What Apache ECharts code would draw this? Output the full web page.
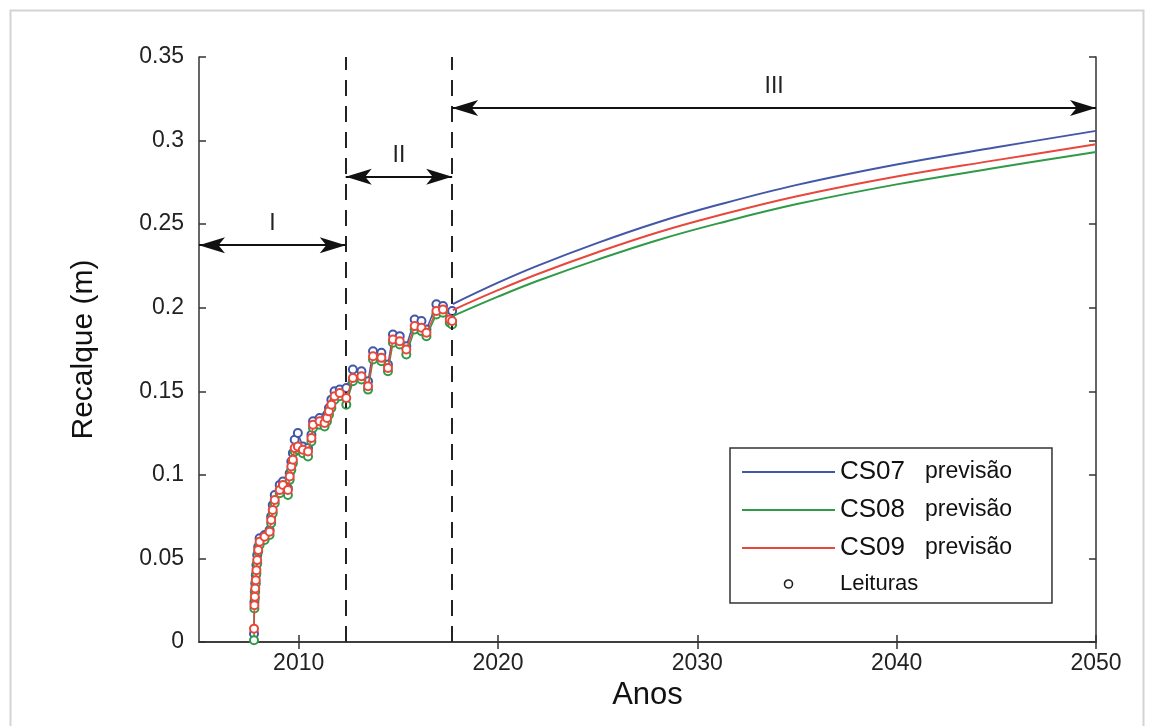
<!DOCTYPE html>
<html><head><meta charset="utf-8">
<script src="https://cdn.jsdelivr.net/npm/echarts@6/dist/echarts.min.js"></script>
<style>html,body{margin:0;padding:0;background:#fff}#c{width:1149px;height:726px}</style>
</head><body><div id="c"></div>
<script>
// ---- data ----
const readYears = [2007.76,2007.78,2007.80,2007.82,2007.85,2007.88,2007.92,2007.97,2008.04,2008.29,
  2008.54,2008.62,2008.70,2008.80,2009.05,2009.21,2009.46,2009.55,2009.63,2009.71,
  2009.80,2009.96,2010.21,2010.47,2010.64,2010.72,2011.05,2011.30,2011.42,2011.52,
  2011.64,2011.80,2012.06,2012.39,2012.72,2013.15,2013.48,2013.73,2014.15,2014.48,
  2014.73,2015.07,2015.40,2015.82,2016.16,2016.41,2016.91,2017.24,2017.58,2017.70];
const cs07Read = [0.005,0.024,0.030,0.035,0.040,0.046,0.052,0.057,0.062,0.064,
  0.067,0.075,0.082,0.088,0.094,0.096,0.092,0.101,0.108,0.113,
  0.121,0.125,0.117,0.116,0.124,0.132,0.134,0.133,0.136,0.140,
  0.145,0.150,0.151,0.152,0.163,0.162,0.156,0.174,0.173,0.166,
  0.184,0.183,0.177,0.193,0.192,0.187,0.202,0.201,0.196,0.198];
const cs08Read = [0.001,0.020,0.026,0.030,0.035,0.041,0.047,0.054,0.058,0.061,
  0.064,0.071,0.077,0.083,0.089,0.092,0.088,0.097,0.103,0.107,
  0.114,0.115,0.113,0.111,0.120,0.128,0.130,0.129,0.132,0.136,
  0.140,0.145,0.147,0.142,0.156,0.157,0.151,0.169,0.168,0.162,
  0.179,0.178,0.172,0.187,0.186,0.183,0.196,0.197,0.191,0.190];
const cs09Read = [0.008,0.022,0.027,0.032,0.037,0.043,0.049,0.055,0.060,0.063,
  0.066,0.073,0.079,0.085,0.091,0.094,0.091,0.099,0.105,0.109,
  0.116,0.117,0.115,0.114,0.122,0.130,0.132,0.131,0.134,0.138,
  0.142,0.147,0.149,0.146,0.158,0.159,0.153,0.171,0.170,0.164,
  0.181,0.180,0.175,0.189,0.188,0.185,0.198,0.199,0.193,0.192];
const predYears = [2017.73,2020,2022,2025,2028,2031,2035,2040,2045,2050];
const cs07Pred = [0.2022,0.2150,0.2252,0.2388,0.2510,0.2614,0.2735,0.2857,0.2960,0.3058];
const cs08Pred = [0.1950,0.2066,0.2161,0.2288,0.2404,0.2503,0.2620,0.2738,0.2837,0.2932];
const cs09Pred = [0.1986,0.2105,0.2202,0.2332,0.2450,0.2550,0.2667,0.2785,0.2883,0.2978];
const seriesNames = ['CS07','CS08','CS09'];
const readingsName = 'Leituras';
const predWord = 'previsão';
const xTicks = [2010,2020,2030,2040,2050];
const yTicks = [0,0.05,0.1,0.15,0.2,0.25,0.3,0.35];
const phaseBounds = [2012.36, 2017.70];
const phaseLabels = ['I','II','III'];
const phaseStart = [2005, 2012.36, 2017.70];
const phaseEnd = [2012.36, 2017.70, 2050];
const phaseLevel = [0.2374, 0.2783, 0.3195];

// ---- style ----
const colors = ['#4357a8','#2f9a48','#e8473b'];
const FONT = 'Liberation Sans, Arial, sans-serif';
const X_MIN = 2005, X_MAX = 2050, Y_MIN = 0, Y_MAX = 0.35;
const ARROW_SIZE = [12, 26];

const zip = (xs, ys) => xs.map((x, i) => [x, ys[i]]);
const reads = [cs07Read, cs08Read, cs09Read];
const preds = [cs07Pred, cs08Pred, cs09Pred];

const series = [];
reads.forEach((r, i) => {
  series.push({
    name: readingsName, type: 'line', data: zip(readYears, r),
    symbol: 'emptyCircle', symbolSize: 8, showSymbol: true,
    lineStyle: {color: colors[i], width: 1.5},
    itemStyle: {color: colors[i], borderColor: colors[i], borderWidth: 1.6},
    z: 3 + i, silent: true
  });
});
preds.forEach((p, i) => {
  series.push({
    name: seriesNames[i], type: 'line', data: zip(predYears, p),
    symbol: 'none', smooth: 0.4, color: colors[i],
    lineStyle: {color: colors[i], width: 2}, z: 6, silent: true
  });
});
// dashed phase boundaries
series.push({
  type: 'line', data: [], silent: true,
  markLine: {
    silent: true, symbol: ['none','none'], animation: false,
    lineStyle: {color: '#222', type: [16, 10], width: 2},
    label: {show: false},
    data: phaseBounds.map(v => ({xAxis: v}))
  }
});
// phase arrows
series.push({
  type: 'line', data: [], silent: true,
  markLine: {
    silent: true, symbol: ['arrow','arrow'], animation: false,
    lineStyle: {color: '#111', type: 'solid', width: 2},
    label: {show: true, position: 'middle', distance: 10, color: '#222',
      fontFamily: FONT, fontSize: 23, formatter: p => p.data.label},
    data: phaseLabels.map((lab, i) => [
      {coord: [phaseStart[i], phaseLevel[i]], label: lab, symbol: 'arrow', symbolSize: ARROW_SIZE},
      {coord: [phaseEnd[i], phaseLevel[i]], symbol: 'arrow', symbolSize: ARROW_SIZE}
    ])
  }
});

const LINE_ICON = 'path://M0,0H93V2H0Z';
const axisCommon = {
  axisLine: {show: true, lineStyle: {color: '#333', width: 1.5}},
  splitLine: {show: false}
};
const tickStyle = {color: '#333', width: 1.5};

const option = {
  animation: false,
  backgroundColor: '#ffffff',
  grid: {left: 199, right: 53, top: 57, bottom: 84, show: false},
  xAxis: [
    Object.assign({}, axisCommon, {
      type: 'value', min: X_MIN, max: X_MAX, position: 'bottom',
      name: 'Anos', nameLocation: 'middle', nameGap: 30,
      nameTextStyle: {fontFamily: FONT, fontSize: 31, color: '#111'},
      axisTick: {show: true, inside: true, length: 7, customValues: xTicks, lineStyle: tickStyle},
      axisLabel: {show: true, customValues: xTicks, formatter: v => String(v),
        fontFamily: FONT, fontSize: 23, color: '#222', margin: 10}
    }),
    Object.assign({}, axisCommon, {
      type: 'value', min: X_MIN, max: X_MAX, position: 'top',
      axisTick: {show: true, inside: true, length: 7, customValues: xTicks, lineStyle: tickStyle},
      axisLabel: {show: false}
    })
  ],
  yAxis: [
    Object.assign({}, axisCommon, {
      type: 'value', min: Y_MIN, max: Y_MAX, position: 'left',
      name: 'Recalque (m)', nameLocation: 'middle', nameGap: 100,
      nameTextStyle: {fontFamily: FONT, fontSize: 30, color: '#111'},
      axisTick: {show: true, inside: true, length: 7, customValues: yTicks, lineStyle: tickStyle},
      axisLabel: {show: true, customValues: yTicks, formatter: v => String(v),
        fontFamily: FONT, fontSize: 23, color: '#222', margin: 15}
    }),
    Object.assign({}, axisCommon, {
      type: 'value', min: Y_MIN, max: Y_MAX, position: 'right',
      axisTick: {show: true, inside: true, length: 7, customValues: yTicks, lineStyle: tickStyle},
      axisLabel: {show: false}
    })
  ],
  legend: {
    orient: 'vertical', left: 730, top: 448,
    padding: [11, 40, 8, 12], itemGap: 12, itemWidth: 93, itemHeight: 8,
    borderColor: '#333', borderWidth: 1.5, backgroundColor: '#fff',
    selectedMode: false,
    data: seriesNames.map((n, i) => ({name: n, icon: LINE_ICON, itemStyle: {color: colors[i], borderWidth: 0}}))
      .concat([{name: readingsName, icon: 'circle', itemStyle: {color: '#fff', borderColor: '#222', borderWidth: 1.6}}]),
    formatter: name => name === readingsName ? '{c|' + name + '}' : '{a|' + name + '}{s|}{b|' + predWord + '}',
    textStyle: {
      fontFamily: FONT, color: '#111',
      rich: {
        a: {fontFamily: FONT, fontSize: 26, color: '#111', lineHeight: 28},
        s: {width: 20},
        b: {fontFamily: FONT, fontSize: 23, color: '#111', lineHeight: 28},
        c: {fontFamily: FONT, fontSize: 22, color: '#111', lineHeight: 28}
      }
    }
  },
  graphic: [{
    type: 'rect', left: 8, top: 8, silent: true,
    shape: {width: 1133, height: 740},
    style: {fill: 'none', stroke: '#d4d4d4', lineWidth: 2}, z: -1
  }],
  series: series
};

const chart = echarts.init(document.getElementById('c'), null, {renderer: 'canvas'});
chart.setOption(option);
</script>
</body></html>
